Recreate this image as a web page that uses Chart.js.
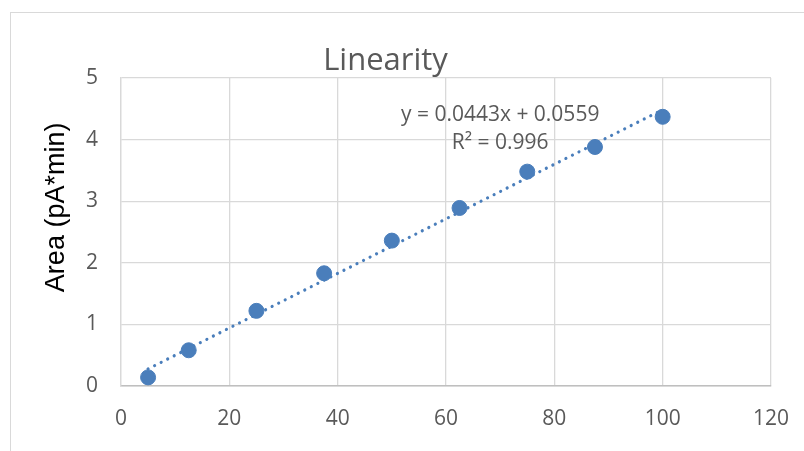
<!DOCTYPE html>
<html>
<head>
<meta charset="utf-8">
<script src="https://cdn.jsdelivr.net/npm/chart.js@4.4.1/dist/chart.umd.min.js"></script>
<style>
  html, body { margin: 0; padding: 0; background: #ffffff; }
  #wrap { position: relative; width: 804px; height: 451px; overflow: hidden; }
  #frame { position: absolute; left: 10px; top: 12px; width: 900px; height: 500px;
           border-left: 1.5px solid #d9d9d9; border-top: 1.5px solid #d9d9d9; pointer-events: none; }
  canvas { position: absolute; left: 0; top: 0; }
</style>
</head>
<body>
<div id="wrap">
  <div id="frame"></div>
  <canvas id="c" width="804" height="451"></canvas>
</div>
<script>
// ---- data ----
const concentrations = [5, 12.5, 25, 37.5, 50, 62.5, 75, 87.5, 100];
const areas = [0.14, 0.58, 1.22, 1.83, 2.36, 2.89, 3.48, 3.88, 4.37];
const trendSlope = 0.0443;
const trendIntercept = 0.0559;
const trendRange = [5, 100];
const equationLabel = "y = 0.0443x + 0.0559";
const r2Label = "R\u00B2 = 0.996";
const chartTitle = "Linearity";
const yAxisTitle = "Area (pA*min)";
const xTicks = [0, 20, 40, 60, 80, 100, 120];
const yTicks = [0, 1, 2, 3, 4, 5];

const pointColor = '#4A7EBB';
const textGray = '#595959';

const scatterData = concentrations.map((x, i) => ({ x: x, y: areas[i] }));
const trendData = trendRange.map(x => ({ x: x, y: trendSlope * x + trendIntercept }));

const annotationPlugin = {
  id: 'annot',
  afterDraw(chart) {
    const ctx = chart.ctx;
    const xs = chart.scales.x, ys = chart.scales.y;
    ctx.save();
    // trendline equation
    ctx.fillStyle = textGray;
    ctx.font = '21px "Open Sans"';
    ctx.textAlign = 'center';
    ctx.textBaseline = 'middle';
    ctx.fillText(equationLabel, xs.getPixelForValue(70), ys.getPixelForValue(4.40));
    ctx.fillText(r2Label, xs.getPixelForValue(70), ys.getPixelForValue(3.945));
    // y axis title
    ctx.fillStyle = '#000000';
    ctx.font = '27px "Liberation Sans"';
    ctx.translate(57, ys.getPixelForValue(2.9));
    ctx.rotate(-Math.PI / 2);
    ctx.fillText(yAxisTitle, 0, 0);
    ctx.restore();
  }
};

new Chart(document.getElementById('c'), {
  type: 'scatter',
  data: {
    datasets: [
      {
        label: 'Area',
        data: scatterData,
        backgroundColor: pointColor,
        borderColor: pointColor,
        pointRadius: 7.5,
        pointHoverRadius: 7.5,
        showLine: false,
        order: 1
      },
      {
        label: 'Linear trend',
        type: 'line',
        data: trendData,
        borderColor: pointColor,
        borderWidth: 3.2,
        borderDash: [0.01, 7.3],
        borderCapStyle: 'round',
        pointRadius: 0,
        fill: false,
        tension: 0,
        order: 2
      }
    ]
  },
  options: {
    responsive: false,
    animation: false,
    events: [],
    layout: { padding: { left: 0, right: 33, top: 0, bottom: 0 } },
    plugins: {
      legend: { display: false },
      tooltip: { enabled: false },
      title: {
        display: true,
        text: chartTitle,
        color: textGray,
        font: { family: '"Open Sans"', size: 31, weight: 'normal', lineHeight: 1.0 },
        padding: { top: 46, bottom: 1 }
      }
    },
    scales: {
      x: {
        type: 'linear',
        min: 0, max: 120,
        afterBuildTicks(scale) { scale.ticks = xTicks.map(v => ({ value: v })); },
        afterFit(scale) { scale.height = 65; scale.paddingRight = 0; scale.paddingLeft = 0; },
        grid: { color: '#d9d9d9', lineWidth: 1.3, drawTicks: false },
        border: { color: '#bfbfbf', width: 1.6 },
        ticks: { color: textGray, font: { family: '"Open Sans"', size: 21 }, padding: 20, maxRotation: 0 }
      },
      y: {
        type: 'linear',
        min: 0, max: 5,
        afterBuildTicks(scale) { scale.ticks = yTicks.map(v => ({ value: v })); },
        afterFit(scale) { scale.width = 121; },
        grid: { color: '#d9d9d9', lineWidth: 1.3, drawTicks: false },
        border: { color: '#d9d9d9', width: 1.3 },
        ticks: { color: textGray, font: { family: '"Open Sans"', size: 21 }, padding: 23 }
      }
    }
  },
  plugins: [annotationPlugin]
});
</script>
</body>
</html>
